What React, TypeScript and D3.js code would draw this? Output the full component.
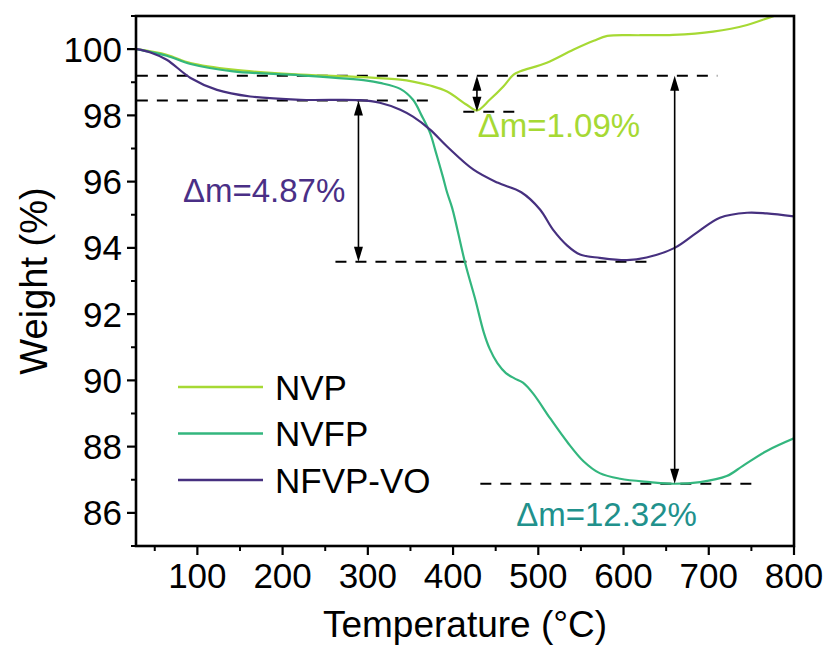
import React from "react";
import * as d3 from "d3";

// TGA curves: temperature (°C) and remaining weight (%)
const nvpT = [29, 64, 92, 142, 221, 300, 338, 353, 373, 393, 416, 428, 443, 459, 471, 479, 510, 541, 565, 581, 620, 658, 705, 745, 774, 800];
const nvpW = [100.0, 99.83, 99.58, 99.38, 99.23, 99.15, 99.08, 99.02, 98.9, 98.72, 98.32, 98.15, 98.47, 98.87, 99.23, 99.33, 99.59, 99.98, 100.25, 100.4, 100.42, 100.43, 100.53, 100.73, 100.98, 101.2];

const nvfpT = [29, 64, 92, 142, 221, 299, 314, 338, 353, 363, 373, 379, 388, 393, 399, 414, 426, 436, 443, 452, 462, 472, 482, 494, 514, 534, 553, 572, 596, 631, 658, 690, 721, 740, 768, 800];
const nvfpW = [100.0, 99.8, 99.55, 99.33, 99.21, 99.05, 98.98, 98.8, 98.47, 98.0, 97.47, 96.96, 96.15, 95.67, 95.2, 93.56, 92.45, 91.45, 90.95, 90.52, 90.22, 90.06, 89.93, 89.6, 88.85, 88.14, 87.56, 87.2, 87.03, 86.93, 86.88, 86.93, 87.11, 87.42, 87.87, 88.25];

const nfvpT = [29, 45, 64, 92, 123, 162, 221, 291, 314, 338, 353, 373, 393, 424, 452, 480, 502, 517, 534, 549, 572, 604, 627, 660, 686, 713, 745, 768, 800];
const nfvpW = [100.0, 99.9, 99.68, 99.13, 98.77, 98.57, 98.47, 98.46, 98.38, 98.17, 97.96, 97.57, 97.06, 96.36, 95.97, 95.68, 95.16, 94.56, 94.07, 93.8, 93.7, 93.63, 93.71, 94.0, 94.46, 94.91, 95.06, 95.04, 94.95];

const seriesNames = ["NVP", "NVFP", "NFVP-VO"];
const seriesColors = ["#a6d934", "#33b67e", "#46307f"];

const xTicks = [100, 200, 300, 400, 500, 600, 700, 800];
const xMinor = [50, 150, 250, 350, 450, 550, 650, 750];
const yTicks = [86, 88, 90, 92, 94, 96, 98, 100];
const yMinor = [85, 87, 89, 91, 93, 95, 97, 99, 101];

// Mass-loss annotations: upper level, loss, arrow temperature, label
const lossNames = ["Δm=1.09%", "Δm=4.87%", "Δm=12.32%"];
const lossTop = [99.2, 98.45, 99.2];
const lossValue = [1.09, 4.87, 12.32];
const lossArrowT = [428, 289, 660];
const lossColors = ["#a6d934", "#4a2f86", "#21918c"];

// Dashed guide lines: level, from T, to T
const guideLevel = [99.2, 98.45, 99.2 - 1.09, 98.45 - 4.87, 99.2 - 12.32];
const guideFrom = [29, 29, 412, 262, 432];
const guideTo = [710, 377, 476, 631, 754];

const W = 831;
const H = 650;
const M = { left: 136, right: 794, top: 16, bottom: 546 };

export default function App() {
  const x = d3.scaleLinear().domain([28, 800]).range([M.left, M.right]);
  const y = d3.scaleLinear().domain([85, 101]).range([M.bottom, M.top]);

  const line = d3
    .line<[number, number]>()
    .x((d) => x(d[0]))
    .y((d) => y(d[1]))
    .curve(d3.curveCatmullRom.alpha(0.5));

  const series = [
    d3.zip(nvpT, nvpW) as [number, number][],
    d3.zip(nvfpT, nvfpW) as [number, number][],
    d3.zip(nfvpT, nfvpW) as [number, number][],
  ];

  const font = "Liberation Sans, Arial, sans-serif";

  const arrowHead = (px: number, py: number, dir: 1 | -1) => {
    const len = 15;
    const half = 4.5;
    return `M${px},${py} L${px - half},${py + dir * len} L${px + half},${py + dir * len} Z`;
  };

  // Label anchors in data space (T, W)
  const labelT = [429, 83, 474];
  const labelW = [97.35, 95.38, 85.6];

  return (
    <svg
      width={W}
      height={H}
      style={{ position: "absolute", left: 0, top: 0, background: "#fff" }}
      fontFamily={font}
    >
      <defs>
        <clipPath id="plot">
          <rect x={M.left} y={M.top} width={M.right - M.left} height={M.bottom - M.top} />
        </clipPath>
      </defs>

      {/* dashed guide lines */}
      {guideLevel.map((lv, i) => (
        <line
          key={"g" + i}
          x1={x(guideFrom[i])}
          x2={x(guideTo[i])}
          y1={y(lv)}
          y2={y(lv)}
          stroke="#000"
          strokeWidth={2}
          strokeDasharray="11 9"
        />
      ))}

      {/* curves */}
      <g clipPath="url(#plot)">
        {series.map((s, i) => (
          <path key={i} d={line(s) || ""} fill="none" stroke={seriesColors[i]} strokeWidth={2.2} />
        ))}
      </g>

      {/* double-headed arrows */}
      {lossTop.map((top, i) => {
        const ax = x(lossArrowT[i]);
        const y1 = y(top);
        const y2 = y(top - lossValue[i]);
        return (
          <g key={"a" + i}>
            <line x1={ax} x2={ax} y1={y1 + 6} y2={y2 - 6} stroke="#000" strokeWidth={1.6} />
            <path d={arrowHead(ax, y1, 1)} fill="#000" />
            <path d={arrowHead(ax, y2, -1)} fill="#000" />
          </g>
        );
      })}

      {/* annotation labels */}
      {lossNames.map((t, i) => (
        <text key={"l" + i} x={x(labelT[i])} y={y(labelW[i])} fontSize={33} fill={lossColors[i]}>
          {t}
        </text>
      ))}

      {/* frame */}
      <rect
        x={M.left}
        y={M.top}
        width={M.right - M.left}
        height={M.bottom - M.top}
        fill="none"
        stroke="#000"
        strokeWidth={2.6}
      />

      {/* x ticks */}
      {xTicks.map((t) => (
        <g key={"xt" + t}>
          <line x1={x(t)} x2={x(t)} y1={M.bottom} y2={M.bottom + 9} stroke="#000" strokeWidth={2.2} />
          <text x={x(t)} y={M.bottom + 42} fontSize={35} textAnchor="middle" fill="#000">
            {t}
          </text>
        </g>
      ))}
      {xMinor.map((t) => (
        <line key={"xm" + t} x1={x(t)} x2={x(t)} y1={M.bottom} y2={M.bottom + 5} stroke="#000" strokeWidth={2} />
      ))}

      {/* y ticks */}
      {yTicks.map((t) => (
        <g key={"yt" + t}>
          <line x1={M.left - 9} x2={M.left} y1={y(t)} y2={y(t)} stroke="#000" strokeWidth={2.2} />
          <text x={M.left - 14} y={y(t)} dy="0.36em" fontSize={35} textAnchor="end" fill="#000">
            {t}
          </text>
        </g>
      ))}
      {yMinor.map((t) => (
        <line key={"ym" + t} x1={M.left - 5} x2={M.left} y1={y(t)} y2={y(t)} stroke="#000" strokeWidth={2} />
      ))}

      {/* axis titles */}
      <text x={(M.left + M.right) / 2} y={637} fontSize={37} textAnchor="middle" fill="#000">
        Temperature (°C)
      </text>
      <text
        transform={`translate(47,${(M.top + M.bottom) / 2}) rotate(-90)`}
        fontSize={38}
        textAnchor="middle"
        fill="#000"
      >
        Weight (%)
      </text>

      {/* legend */}
      {seriesNames.map((n, i) => {
        const ly = 387 + i * 46.5;
        return (
          <g key={"lg" + i}>
            <line x1={178} x2={263} y1={ly} y2={ly} stroke={seriesColors[i]} strokeWidth={2.4} />
            <text x={275} y={ly} dy="0.36em" fontSize={35} fill="#000">
              {n}
            </text>
          </g>
        );
      })}
    </svg>
  );
}
